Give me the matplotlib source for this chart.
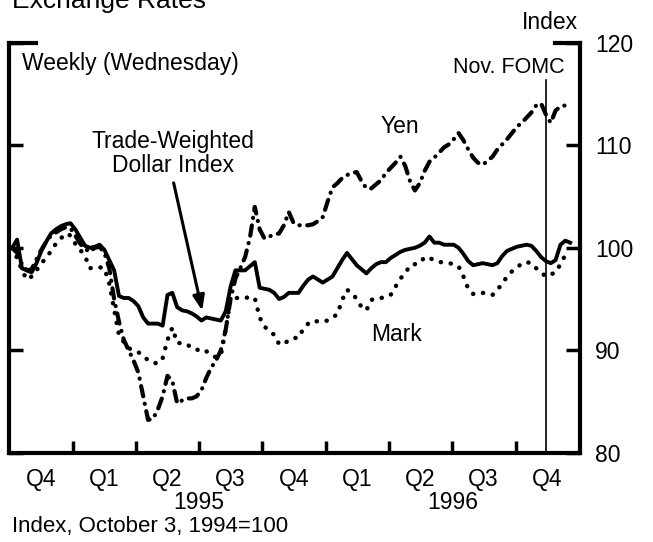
import datetime as dt
import matplotlib
matplotlib.use("Agg")
import matplotlib.pyplot as plt
import matplotlib.dates as mdates

plt.rcParams["font.family"] = ["Liberation Sans", "DejaVu Sans"]

# weekly (Wednesday) readings, index Oct 3 1994 = 100
start = dt.date(1994, 10, 5)
dollar = [
    100.0, 100.8, 98.0, 97.8, 97.6, 98.5, 99.7, 100.6, 101.4, 101.8,
    102.1, 102.3, 102.4, 101.8, 101.0, 100.2, 100.0, 100.1, 100.3, 99.8,
    98.8, 97.8, 95.3, 95.1, 95.1, 94.8, 94.3, 93.2, 92.6, 92.6,
    92.6, 92.4, 95.4, 95.6, 94.2, 93.9, 93.8, 93.6, 93.3, 92.9,
    93.2, 93.1, 93.0, 92.9, 93.8, 96.2, 97.8, 97.8, 97.8, 98.2,
    98.6, 96.1, 96.0, 95.9, 95.6, 95.0, 95.2, 95.6, 95.6, 95.6,
    96.3, 96.9, 97.2, 96.9, 96.6, 96.9, 97.2, 98.0, 98.8, 99.5,
    98.9, 98.3, 97.9, 97.5, 98.0, 98.4, 98.6, 98.6, 99.0, 99.3,
    99.6, 99.8, 99.9, 100.0, 100.2, 100.5, 101.1, 100.5, 100.5, 100.3,
    100.3, 100.3, 100.0, 99.4, 98.7, 98.3, 98.4, 98.5, 98.4, 98.3,
    98.5, 99.2, 99.7, 99.9, 100.1, 100.2, 100.3, 100.2, 99.7, 99.1,
    98.7, 98.5, 98.8, 100.3, 100.7, 100.5,
]
mark = [
    100.0, 99.0, 97.8, 96.9, 97.2, 97.8, 98.5, 99.0, 99.7, 100.4,
    100.9, 101.4, 101.2, 100.4, 99.8, 99.2, 98.0, 98.1, 98.1, 98.0,
    96.5, 94.0, 91.5, 90.8, 90.2, 90.0, 89.8, 89.5, 89.0, 88.8,
    88.7, 89.2, 91.0, 92.2, 90.7, 90.7, 90.6, 90.2, 90.1, 89.8,
    89.9, 89.6, 89.3, 89.5, 92.0, 95.0, 95.1, 95.1, 95.1, 95.2,
    95.1, 93.2, 92.3, 91.9, 91.5, 90.6, 90.6, 91.0, 91.2, 91.2,
    92.1, 92.6, 92.9, 92.8, 92.8, 92.9, 93.2, 93.5, 94.9, 95.9,
    95.6, 95.0, 94.2, 93.9, 94.9, 95.1, 95.1, 95.2, 95.4, 96.2,
    97.0, 97.5, 98.3, 98.4, 98.5, 99.1, 99.0, 98.8, 98.6, 98.6,
    98.5, 98.4, 98.2, 97.2, 96.0, 95.5, 95.5, 95.6, 95.5, 95.4,
    95.9, 96.5, 97.2, 97.7, 98.0, 98.5, 98.6, 98.5, 98.0, 97.6,
    97.2, 97.4, 97.6, 98.4, 99.3, 99.5,
]
yen = [
    100.0, 99.5, 98.4, 97.8, 97.9, 98.9, 99.8, 100.6, 101.2, 101.5,
    101.8, 102.0, 101.9, 101.2, 100.4, 99.9, 99.6, 100.0, 100.1, 99.5,
    98.0, 95.0, 92.8, 91.0, 90.0, 89.0, 87.8, 85.5, 83.2, 83.3,
    84.2, 85.5, 87.5, 87.0, 84.8, 85.1, 85.3, 85.3, 85.5, 86.1,
    87.3, 88.3, 89.0, 90.0, 92.0, 95.0, 97.0, 98.0, 99.1, 101.0,
    104.0, 101.8, 100.9, 101.1, 101.3, 101.4, 102.2, 103.5, 102.4, 102.2,
    102.2, 102.2, 102.3, 102.6, 103.0, 104.5, 105.9, 106.3, 106.8, 107.1,
    107.3, 107.4, 106.5, 105.8, 105.8, 106.2, 106.6, 107.3, 107.8, 108.3,
    108.9, 108.0, 106.5, 105.6, 106.3, 107.5, 108.4, 108.8, 109.3, 109.8,
    110.1, 110.6, 111.2, 110.5, 109.6, 108.8, 108.3, 108.1, 108.5, 108.9,
    109.6, 110.1, 110.6, 111.2, 111.8, 112.2, 112.7, 113.2, 113.9, 114.1,
    113.0, 112.2, 113.4, 113.8, 113.9, 114.1,
]
dates = [start + dt.timedelta(weeks=i) for i in range(len(dollar))]

quarter_ticks = [dt.date(1995, 1, 1), dt.date(1995, 4, 1), dt.date(1995, 7, 1),
                 dt.date(1995, 10, 1), dt.date(1996, 1, 1), dt.date(1996, 4, 1),
                 dt.date(1996, 7, 1), dt.date(1996, 10, 1)]
quarter_mids = [dt.date(1994, 11, 15), dt.date(1995, 2, 15), dt.date(1995, 5, 16),
                dt.date(1995, 8, 15), dt.date(1995, 11, 15), dt.date(1996, 2, 15),
                dt.date(1996, 5, 16), dt.date(1996, 8, 15), dt.date(1996, 11, 15)]
quarter_labels = ["Q4", "Q1", "Q2", "Q3", "Q4", "Q1", "Q2", "Q3", "Q4"]
years = ["1995", "1996"]
year_mids = [dt.date(1995, 7, 1), dt.date(1996, 7, 1)]
fomc = dt.date(1996, 11, 13)

fig = plt.figure(figsize=(6.53, 5.42), dpi=100)
ax = fig.add_axes([0.0145, 0.1648, 0.8735, 0.756])

ax.plot(dates, dollar, color="black", lw=2.8, solid_joinstyle="round")
ax.plot(dates, mark, color="black", lw=3.2, linestyle=(0, (0.05, 2.2)),
        dash_capstyle="round")
ax.plot(dates, yen, color="black", lw=3.0, linestyle=(0, (2.5, 1.8, 0.05, 1.8)),
        dash_capstyle="round")

ax.axvline(fomc, ymax=0.91, color="black", lw=1.2)

ax.set_xlim(dt.date(1994, 10, 1), dt.date(1997, 1, 1))
ax.set_ylim(80, 120)

ax.spines["top"].set_visible(False)
for s in ["left", "right", "bottom"]:
    ax.spines[s].set_linewidth(3)
    ax.spines[s].set_capstyle("projecting")

ax.set_yticks([80, 90, 100, 110, 120])
ax.tick_params(axis="y", direction="in", left=True, right=True,
               labelleft=False, labelright=True, length=10, width=2.5,
               labelsize=16.5, pad=11)
ax.set_xticks(quarter_ticks)
ax.set_xticks(quarter_mids, minor=True)
ax.set_xticklabels([])
ax.set_xticklabels(quarter_labels, minor=True)
ax.tick_params(axis="x", which="major", direction="in", length=9, width=2.5)
ax.tick_params(axis="x", which="minor", length=0, labelsize=16.5, pad=11)

# bracket ends at the top
ax.plot([0, 0.047], [1, 1], transform=ax.transAxes, color="black", lw=3,
        clip_on=False, solid_capstyle="projecting")
ax.plot([0.956, 1], [1, 1], transform=ax.transAxes, color="black", lw=3,
        clip_on=False, solid_capstyle="projecting")

for yl, ym in zip(years, year_mids):
    ax.text(mdates.date2num(ym), -0.121, yl, transform=ax.get_xaxis_transform(),
            ha="center", va="center", fontsize=16.5)

ax.text(0.022, 0.951, "Weekly (Wednesday)", transform=ax.transAxes,
        ha="left", va="center", fontsize=16.5)
ax.text(dt.date(1995, 5, 25), 109.2, "Trade-Weighted\nDollar Index",
        ha="center", va="center", fontsize=16.5, linespacing=1.1)
ax.annotate("", xy=(dt.date(1995, 7, 7), 93.6), xytext=(dt.date(1995, 5, 25), 106.6),
            arrowprops=dict(arrowstyle="-|>,head_length=0.9,head_width=0.35",
                            color="black", lw=2.2))
ax.text(dt.date(1996, 4, 16), 111.8, "Yen", ha="center", va="center", fontsize=16.5)
ax.text(dt.date(1996, 4, 12), 91.5, "Mark", ha="center", va="center", fontsize=16.5)
ax.text(dt.date(1996, 12, 10), 117.6, "Nov. FOMC", ha="right", va="center",
        fontsize=15.5)

fig.text(0.842, 0.959, "Index", ha="center", va="center", fontsize=16.5)
fig.text(0.018, 0.985, "Exchange Rates", ha="left", va="baseline", fontsize=19)
fig.text(0.018, 0.029, "Index, October 3, 1994=100", ha="left", va="center",
         fontsize=16)

fig.savefig("out.png", dpi=100)
